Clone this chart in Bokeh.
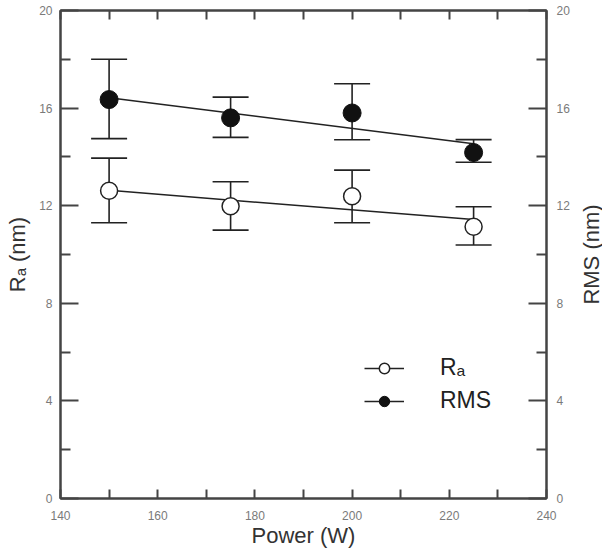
import numpy as np
from bokeh.plotting import figure
from bokeh.layouts import row
from bokeh.models import (Range1d, LinearAxis, FixedTicker, Whisker, TeeHead,
                          ColumnDataSource, Legend, LegendItem)
from bokeh.embed import file_html
from bokeh.resources import INLINE

# ---- data ----
power = [150, 175, 200, 225]
ra = [12.61, 11.98, 12.39, 11.14]
ra_upper = [13.95, 12.98, 13.46, 11.96]
ra_lower = [11.30, 11.00, 11.30, 10.39]
rms = [16.35, 15.60, 15.80, 14.18]
rms_upper = [18.00, 16.45, 17.00, 14.71]
rms_lower = [14.75, 14.80, 14.70, 13.78]

x_ticks = [140, 160, 180, 200, 220, 240]
x_minor = [150, 170, 190, 210, 230]
y_ticks = [0, 4, 8, 12, 16, 20]
y_minor = [2, 6, 10, 14, 18]

# linear fits through the measured points
fit_x = [power[0], power[-1]]
ra_fit = np.polyval(np.polyfit(power, ra, 1), fit_x)
rms_fit = np.polyval(np.polyfit(power, rms, 1), fit_x)

FONT = "Liberation Sans"
AX = "#444444"
TICKLAB = "#7a7a7a"
H = 550
yr = Range1d(0, 20)

p = figure(width=572, height=H, output_backend="svg", toolbar_location=None,
           x_range=Range1d(140, 240), y_range=yr,
           x_axis_location=None, y_axis_location=None,
           min_border_left=60, min_border_right=24, min_border_top=10,
           min_border_bottom=51)
p.xgrid.visible = False
p.ygrid.visible = False
p.outline_line_color = AX
p.outline_line_width = 2
p.background_fill_color = "white"
p.border_fill_color = "white"


def style(ax, ticker, tin, minin):
    ax.ticker = ticker
    ax.axis_line_color = AX
    ax.axis_line_width = 2
    ax.major_tick_line_color = AX
    ax.minor_tick_line_color = AX
    ax.major_tick_line_width = 2
    ax.minor_tick_line_width = 2
    ax.major_tick_in = tin
    ax.major_tick_out = 0
    ax.minor_tick_in = minin
    ax.minor_tick_out = 0
    ax.major_label_text_font = FONT
    ax.major_label_text_color = TICKLAB
    ax.major_label_text_font_size = "12px"
    ax.axis_label_text_font = FONT
    ax.axis_label_text_font_size = "22px"
    ax.axis_label_text_font_style = "normal"
    ax.axis_label_text_color = "#333333"


xt = FixedTicker(ticks=x_ticks, minor_ticks=x_minor)
yt = FixedTicker(ticks=y_ticks, minor_ticks=y_minor)

bottom = LinearAxis(axis_label="Power (W)")
style(bottom, xt, 9, 9)
bottom.major_label_standoff = 12
bottom.axis_label_standoff = 0
p.add_layout(bottom, "below")

top = LinearAxis()
style(top, FixedTicker(ticks=x_ticks, minor_ticks=x_minor), 9, 9)
top.major_label_standoff = 0
top.major_label_overrides = {t: "" for t in x_ticks}
p.add_layout(top, "above")

left = LinearAxis(axis_label="Rₐ (nm)")
style(left, yt, 18, 10)
left.major_label_standoff = 8
left.axis_label_standoff = 6
p.add_layout(left, "left")

right = LinearAxis()
style(right, FixedTicker(ticks=y_ticks, minor_ticks=y_minor), 18, 10)
right.major_label_standoff = 10
p.add_layout(right, "right")

# error bars
ra_src = ColumnDataSource(dict(x=power, y=ra, upper=ra_upper, lower=ra_lower))
rms_src = ColumnDataSource(dict(x=power, y=rms, upper=rms_upper, lower=rms_lower))
for src in (ra_src, rms_src):
    w = Whisker(source=src, base="x", upper="upper", lower="lower",
                dimension="height", line_color="#222222", line_width=1.6,
                upper_head=TeeHead(size=36, line_color="#222222", line_width=1.6),
                lower_head=TeeHead(size=36, line_color="#222222", line_width=1.6))
    p.add_layout(w)

# fit lines
ra_line = p.line(fit_x, ra_fit, line_color="#222222", line_width=1.5)
rms_line = p.line(fit_x, rms_fit, line_color="#222222", line_width=1.5)

# markers
ra_pts = p.scatter("x", "y", source=ra_src, size=17, marker="circle",
                   fill_color="white", line_color="#222222", line_width=1.5)
rms_pts = p.scatter("x", "y", source=rms_src, size=18, marker="circle",
                    fill_color="#111111", line_color="#111111", line_width=1)

legend = Legend(items=[LegendItem(label="Rₐ", renderers=[ra_line, ra_pts]),
                       LegendItem(label="RMS", renderers=[rms_line, rms_pts])],
                location=(304, 84))
legend.glyph_width = 40
legend.glyph_height = 26
legend.label_height = 26
legend.spacing = 6
legend.padding = 0
legend.margin = 0
legend.label_standoff = 36
legend.label_text_font = FONT
legend.label_text_font_size = "23px"
legend.label_text_color = "#222222"
legend.border_line_color = None
legend.background_fill_alpha = 0
p.add_layout(legend)

# narrow companion figure carrying the right-hand axis title (reads bottom-to-top)
p2 = figure(width=30, height=H, output_backend="svg", toolbar_location=None,
            x_range=Range1d(0, 1), y_range=yr,
            x_axis_location=None, y_axis_location=None,
            min_border_left=28, min_border_right=0, min_border_top=10,
            min_border_bottom=51)
p2.xgrid.visible = False
p2.ygrid.visible = False
p2.outline_line_color = None
p2.background_fill_color = "white"
p2.border_fill_color = "white"
rt = LinearAxis(axis_label="RMS (nm)", ticker=FixedTicker(ticks=[], minor_ticks=[]))
rt.axis_line_color = None
rt.major_tick_line_color = None
rt.minor_tick_line_color = None
rt.major_tick_in = 0
rt.major_tick_out = 0
rt.minor_tick_in = 0
rt.minor_tick_out = 0
rt.major_label_standoff = 0
rt.axis_label_standoff = -3
rt.axis_label_text_font = FONT
rt.axis_label_text_font_size = "22px"
rt.axis_label_text_font_style = "normal"
rt.axis_label_text_color = "#333333"
p2.add_layout(rt, "left")

open("out.html", "w").write(file_html(row(p, p2), INLINE))
